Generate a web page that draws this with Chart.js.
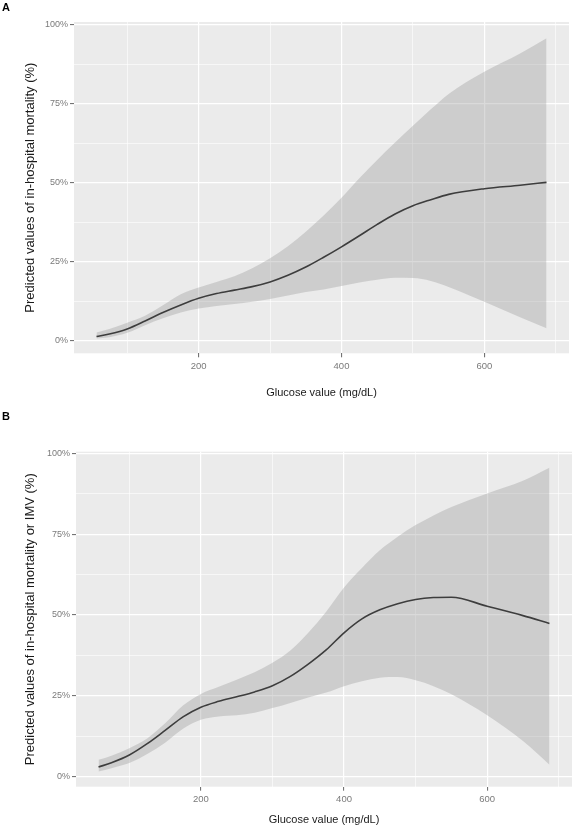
<!DOCTYPE html>
<html>
<head>
<meta charset="utf-8">
<script src="https://cdn.jsdelivr.net/npm/chart.js@4.4.1/dist/chart.umd.min.js"></script>
<style>
  body { margin: 0; background: #ffffff; }
  #wrap { position: relative; width: 574px; height: 827px; }
  canvas { position: absolute; left: 0; }
  #chartA { top: 0; }
  #chartB { top: 410px; }
</style>
</head>
<body>
<div id="wrap">
  <canvas id="chartA" width="574" height="410"></canvas>
  <canvas id="chartB" width="574" height="417"></canvas>
</div>
<script>
// glucose values (mg/dL) where the curves were read
const glucose = [57, 75, 100, 125, 150, 175, 200, 225, 250, 275, 300, 325, 350, 375, 400, 425, 450, 475, 500, 525, 550, 600, 650, 687];

// panel A: in-hospital mortality (%)
const mortalityFit   = [1.4, 2.2, 3.8, 6.3, 9.0, 11.4, 13.5, 15.0, 16.1, 17.2, 18.7, 20.8, 23.4, 26.5, 29.8, 33.3, 36.9, 40.2, 42.8, 44.7, 46.4, 48.2, 49.3, 50.2];
const mortalityUpper = [2.7, 3.8, 5.8, 8.0, 11.3, 14.8, 16.9, 18.7, 20.5, 23.0, 26.2, 30.0, 34.6, 39.7, 45.3, 51.5, 57.3, 62.8, 68.1, 73.3, 78.2, 85.2, 91.0, 95.8];
const mortalityLower = [0.8, 1.2, 2.6, 5.0, 7.2, 9.0, 10.3, 11.1, 11.7, 12.4, 13.3, 14.4, 15.5, 16.3, 17.4, 18.5, 19.4, 20.0, 19.9, 19.0, 17.1, 12.4, 7.5, 4.0];

// panel B: in-hospital mortality or IMV (%)
const imvFit   = [3.0, 4.3, 6.7, 10.2, 14.3, 18.5, 21.5, 23.3, 24.7, 26.2, 28.1, 31.0, 34.8, 39.2, 44.5, 48.8, 51.6, 53.5, 54.8, 55.4, 55.5, 52.7, 49.8, 47.4];
const imvUpper = [5.2, 6.5, 8.8, 11.8, 16.5, 22.0, 25.6, 27.8, 30.0, 32.3, 35.2, 39.0, 44.5, 51.0, 58.5, 64.5, 70.0, 74.2, 77.8, 80.8, 83.4, 87.6, 91.5, 95.5];
const imvLower = [1.6, 2.6, 4.2, 7.0, 10.5, 14.8, 17.6, 18.6, 19.0, 19.8, 21.2, 22.8, 24.5, 26.0, 28.0, 29.5, 30.6, 30.8, 29.8, 28.0, 25.5, 19.0, 11.0, 3.7];

// axis breaks
const xMajor = [200, 400, 600];
const xMinor = [100, 300, 500, 700];
const yMajor = [0, 25, 50, 75, 100];
const yMinor = [12.5, 37.5, 62.5, 87.5];
const yLabels = ["0%", "25%", "50%", "75%", "100%"];

const FONT = "'Liberation Sans', Arial, sans-serif";

function toPoints(xs, ys) {
    return xs.map(function (x, i) {
        return { x: x, y: ys[i] };
    });
}

function setTicks(majors, minors) {
    return function (scale) {
        scale.ticks = majors.concat(minors).sort(function (a, b) { return a - b; }).map(function (v) {
            return { value: v };
        });
    };
}

function isMajor(list, v) {
    return list.indexOf(v) !== -1;
}

const panelBackground = {
    id: "panelBackground",
    beforeDraw: function (chart) {
        const a = chart.chartArea;
        const ctx = chart.ctx;
        ctx.save();
        ctx.fillStyle = "#EBEBEB";
        ctx.fillRect(a.left, a.top, a.right - a.left, a.bottom - a.top);
        ctx.restore();
    }
};

const panelTag = {
    id: "panelTag",
    afterDraw: function (chart, args, opts) {
        const ctx = chart.ctx;
        ctx.save();
        ctx.font = "bold 11px " + FONT;
        ctx.fillStyle = "#000000";
        ctx.textBaseline = "alphabetic";
        ctx.fillText(opts.text, opts.x, opts.y);
        ctx.restore();
    }
};

function makePanel(id, cfg) {
    const ctx = document.getElementById(id).getContext("2d");
    return new Chart(ctx, {
        type: "line",
        data: {
            datasets: [
                {
                    label: "fit",
                    data: toPoints(glucose, cfg.fit),
                    borderColor: "#3d3d3d",
                    borderWidth: 1.6,
                    pointRadius: 0,
                    fill: false,
                    cubicInterpolationMode: "monotone"
                },
                {
                    label: "upper",
                    data: toPoints(glucose, cfg.upper),
                    borderWidth: 0,
                    borderColor: "rgba(0,0,0,0)",
                    backgroundColor: "rgba(153,153,153,0.36)",
                    pointRadius: 0,
                    fill: "+1",
                    cubicInterpolationMode: "monotone"
                },
                {
                    label: "lower",
                    data: toPoints(glucose, cfg.lower),
                    borderWidth: 0,
                    borderColor: "rgba(0,0,0,0)",
                    pointRadius: 0,
                    fill: false,
                    cubicInterpolationMode: "monotone"
                }
            ]
        },
        options: {
            responsive: false,
            animation: false,
            events: [],
            layout: { padding: cfg.padding },
            plugins: {
                legend: { display: false },
                tooltip: { enabled: false },
                panelTag: cfg.tag
            },
            scales: {
                x: {
                    type: "linear",
                    min: 25.5,
                    max: 718.5,
                    afterBuildTicks: setTicks(xMajor, xMinor),
                    afterFit: function (scale) { scale.height = cfg.xHeight; },
                    border: { display: false },
                    grid: {
                        color: "#ffffff",
                        lineWidth: function (c) { return isMajor(xMajor, c.tick.value) ? 1.2 : 0.6; },
                        tickColor: function (c) { return isMajor(xMajor, c.tick.value) ? "#666666" : "rgba(0,0,0,0)"; },
                        tickLength: 4,
                        tickWidth: 1
                    },
                    ticks: {
                        autoSkip: false,
                        maxRotation: 0,
                        padding: 3,
                        color: "#7a7a7a",
                        font: { family: FONT, size: 9.5 },
                        callback: function (v) { return isMajor(xMajor, v) ? String(v) : ""; }
                    },
                    title: {
                        display: true,
                        text: "Glucose value (mg/dL)",
                        color: "#1a1a1a",
                        font: { family: FONT, size: 11 },
                        padding: { top: 0, bottom: cfg.xTitlePad }
                    }
                },
                y: {
                    type: "linear",
                    min: cfg.yMin,
                    max: cfg.yMax,
                    afterBuildTicks: setTicks(yMajor, yMinor),
                    afterFit: function (scale) { scale.width = cfg.yWidth; },
                    border: { display: false },
                    grid: {
                        color: "#ffffff",
                        lineWidth: function (c) { return isMajor(yMajor, c.tick.value) ? 1.2 : 0.6; },
                        tickColor: function (c) { return isMajor(yMajor, c.tick.value) ? "#666666" : "rgba(0,0,0,0)"; },
                        tickLength: 4,
                        tickWidth: 1
                    },
                    ticks: {
                        autoSkip: false,
                        padding: 2,
                        color: "#7a7a7a",
                        font: { family: FONT, size: 9 },
                        callback: function (v) {
                            const i = yMajor.indexOf(v);
                            return i === -1 ? "" : yLabels[i];
                        }
                    },
                    title: {
                        display: true,
                        text: cfg.yTitle,
                        color: "#1a1a1a",
                        font: { family: FONT, size: 13 },
                        padding: { top: 22.2, bottom: 0 }
                    }
                }
            }
        },
        plugins: [panelBackground, panelTag]
    });
}

makePanel("chartA", {
    fit: mortalityFit,
    upper: mortalityUpper,
    lower: mortalityLower,
    yTitle: "Predicted values of in-hospital mortality (%)",
    yMin: -3.9,
    yMax: 100.95,
    padding: { top: 22, right: 5, left: 0, bottom: 0 },
    yWidth: 74,
    xHeight: 56.7,
    xTitlePad: 10.4,
    tag: { text: "A", x: 2, y: 11 }
});

makePanel("chartB", {
    fit: imvFit,
    upper: imvUpper,
    lower: imvLower,
    yTitle: "Predicted values of in-hospital mortality or IMV (%)",
    yMin: -3.1,
    yMax: 100.5,
    padding: { top: 41.7, right: 2, left: 0, bottom: 0 },
    yWidth: 76,
    xHeight: 40.3,
    xTitlePad: 0.4,
    tag: { text: "B", x: 2, y: 10 }
});
</script>
</body>
</html>
